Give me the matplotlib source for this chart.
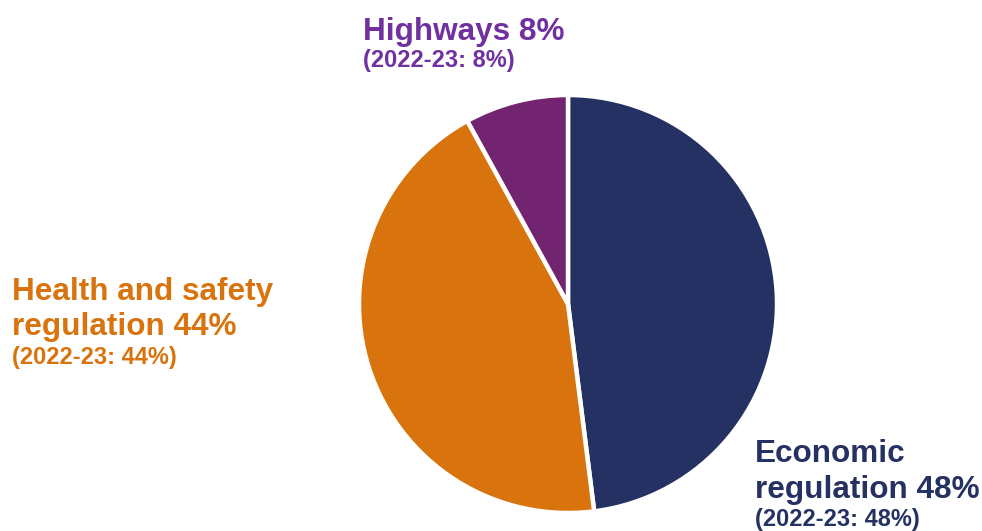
import matplotlib
matplotlib.use("Agg")
import matplotlib.pyplot as plt

categories = ["Economic regulation", "Health and safety regulation", "Highways"]
shares = [48, 44, 8]
prior_shares = [48, 44, 8]
slice_colors = ["#253163", "#D9730D", "#722470"]
label_colors = ["#253163", "#D9730D", "#7030A0"]

W, H = 982, 531
fig = plt.figure(figsize=(W / 100, H / 100), dpi=100)
ax = fig.add_axes([0, 0, 1, 1])
ax.set_xlim(0, W)
ax.set_ylim(0, H)
ax.set_aspect("equal")
ax.axis("off")

ax.pie(shares, colors=slice_colors, startangle=90, counterclock=False,
       center=(568, H - 304), radius=209,
       wedgeprops=dict(edgecolor="white", linewidth=3.2))
ax.set_xlim(0, W)
ax.set_ylim(0, H)

font = "Liberation Sans"
big = 22.7
small = 17

# Economic regulation
ax.text(755, H - 462, "Economic", color=label_colors[0], fontsize=big, fontweight="bold", family=font, va="baseline")
ax.text(755, H - 498, f"regulation {shares[0]}%", color=label_colors[0], fontsize=big, fontweight="bold", family=font, va="baseline")
ax.text(755, H - 526, f"(2022-23: {prior_shares[0]}%)", color=label_colors[0], fontsize=small, fontweight="bold", family=font, va="baseline")

# Health and safety
ax.text(12, H - 300, "Health and safety", color=label_colors[1], fontsize=big, fontweight="bold", family=font, va="baseline")
ax.text(12, H - 335, f"regulation {shares[1]}%", color=label_colors[1], fontsize=big, fontweight="bold", family=font, va="baseline")
ax.text(12, H - 364, f"(2022-23: {prior_shares[1]}%)", color=label_colors[1], fontsize=small, fontweight="bold", family=font, va="baseline")

# Highways
ax.text(363, H - 40, f"Highways {shares[2]}%", color=label_colors[2], fontsize=big, fontweight="bold", family=font, va="baseline")
ax.text(363, H - 67, f"(2022-23: {prior_shares[2]}%)", color=label_colors[2], fontsize=small, fontweight="bold", family=font, va="baseline")

fig.savefig("out.png", dpi=100, facecolor="white")
